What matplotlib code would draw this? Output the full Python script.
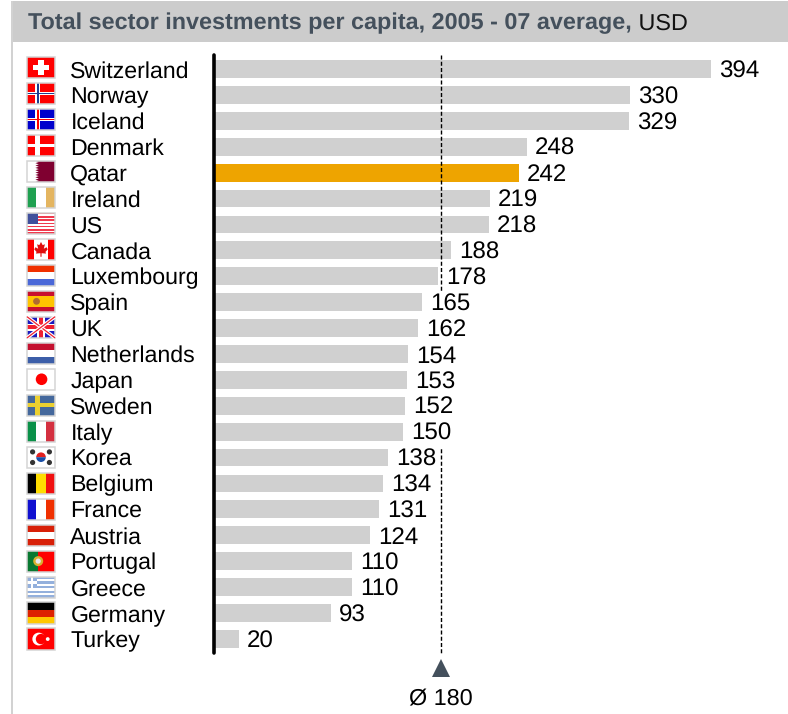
#libraries used
import matplotlib
matplotlib.use('Agg')
import matplotlib.pyplot as plt
from matplotlib.patches import Rectangle, Polygon, Circle, Wedge

plt.rcParams['font.family'] = ['Liberation Sans', 'DejaVu Sans']
plt.rcParams['text.hinting'] = 'no_hinting'

countries = ['Switzerland', 'Norway', 'Iceland', 'Denmark', 'Qatar', 'Ireland', 'US', 'Canada',
             'Luxembourg', 'Spain', 'UK', 'Netherlands', 'Japan', 'Sweden', 'Italy', 'Korea',
             'Belgium', 'France', 'Austria', 'Portugal', 'Greece', 'Germany', 'Turkey']
values = [394, 330, 329, 248, 242, 219, 218, 188, 178, 165, 162, 154, 153, 152, 150, 138,
          134, 131, 124, 110, 110, 93, 20]
average = 180
highlight = 'Qatar'
title_bold = 'Total sector investments per capita, 2005 - 07 average,'
title_unit = ' USD'

W, H = 788, 714
ROW0, ROW_STEP = 69.0, 25.9
BAR_X0 = 213.5
PX_PER_UNIT = 1.263

fig = plt.figure(figsize=(W / 100, H / 100), dpi=100)

# background axes in pixels, for the frame and the flags
bg = fig.add_axes([0, 0, 1, 1])
bg.set_xlim(0, W)
bg.set_ylim(H, 0)
bg.axis('off')

# bars axes in data units
ax = fig.add_axes([0, 0, 1, 1], facecolor='none')
ax.set_xlim(-BAR_X0 / PX_PER_UNIT, (W - BAR_X0) / PX_PER_UNIT)
ax.set_ylim((H - ROW0) / ROW_STEP, -ROW0 / ROW_STEP)
ax.axis('off')

bg.add_patch(Rectangle((11, 1), W - 11, 41, color='#cccccc', lw=0))
bg.add_patch(Rectangle((11, 1), 2.2, H, color='#d2d2d2', lw=0))
t = bg.text(28, 23.5, title_bold, fontsize=16.85, fontweight='bold', color='#44505c', va='center')
bbox = t.get_window_extent(fig.canvas.get_renderer())
bg.text(bbox.x1, 23.5, title_unit, fontsize=16.85, color='#111111', va='center')


def flag(row, name):
    # every flag is 28 x 21 px, u and v go from 0 to 1 inside it
    x0, y0 = 27.0, 67.5 + 25.98 * row - 10.6
    w, h = 28.0, 21.2

    def r(u0, v0, u1, v1, c):
        bg.add_patch(Rectangle((x0 + u0 * w, y0 + v0 * h), (u1 - u0) * w, (v1 - v0) * h, color=c, lw=0))

    def p(pts, c, lw=0):
        bg.add_patch(Polygon([(x0 + u * w, y0 + v * h) for u, v in pts], closed=True, color=c, lw=lw))

    def o(u, v, rad, c):
        bg.add_patch(Circle((x0 + u * w, y0 + v * h), rad, color=c, lw=0))

    def hstripes(cols):
        for i, c in enumerate(cols):
            r(0, i / len(cols), 1, (i + 1) / len(cols), c)

    def vstripes(cols):
        for i, c in enumerate(cols):
            r(i / len(cols), 0, (i + 1) / len(cols), 1, c)

    def nordic(bg_c, cross_c, inner=None):
        r(0, 0, 1, 1, bg_c)
        r(.29, 0, .47, 1, cross_c)
        r(0, .41, 1, .59, cross_c)
        if inner:
            r(.345, 0, .415, 1, inner)
            r(0, .465, 1, .535, inner)

    if name == 'Switzerland':
        r(0, 0, 1, 1, '#ff0000')
        r(.39, .16, .61, .84, 'white')
        r(.23, .36, .77, .64, 'white')
    elif name == 'Norway':
        nordic('#ff0000', 'white', '#1f3f8f')
    elif name == 'Iceland':
        nordic('#0000cc', 'white', '#ff0000')
    elif name == 'Denmark':
        nordic('#ff0000', 'white')
    elif name == 'Qatar':
        r(0, 0, 1, 1, '#7f0030')
        pts = [(0, 0)]
        for i in range(9):
            pts += [(.3, i / 9), (.42, (i + .5) / 9)]
        pts += [(.3, 1), (0, 1)]
        p(pts, 'white')
    elif name == 'Ireland':
        vstripes(['#1fa050', 'white', '#e4b560'])
    elif name == 'US':
        cols = ['#f03a4e' if i % 2 == 0 else 'white' for i in range(13)]
        hstripes(cols)
        r(0, 0, .4, 7 / 13, '#40509c')
    elif name == 'Canada':
        vstripes(['#ff0000', 'white', 'white', '#ff0000'])
        p([(.5, .15), (.56, .3), (.64, .26), (.6, .47), (.7, .4), (.74, .5), (.66, .62), (.68, .7),
           (.52, .68), (.52, .85), (.48, .85), (.48, .68), (.32, .7), (.34, .62), (.26, .5),
           (.3, .4), (.4, .47), (.36, .26), (.44, .3)], '#e01010')
    elif name == 'Luxembourg':
        hstripes(['#f03000', 'white', '#4a68d8'])
    elif name == 'Spain':
        r(0, 0, 1, 1, '#c8102e')
        r(0, .25, 1, .75, '#ffc400')
        o(.34, .5, 3.4, '#b06a30')
    elif name == 'UK':
        r(0, 0, 1, 1, '#1a1ac0')
        for a, b in [((0, 0), (1, 1)), ((0, 1), (1, 0))]:
            bg.plot([x0 + a[0] * w, x0 + b[0] * w], [y0 + a[1] * h, y0 + b[1] * h], color='white', lw=2.6, solid_capstyle='butt')
            bg.plot([x0 + a[0] * w, x0 + b[0] * w], [y0 + a[1] * h, y0 + b[1] * h], color='#f02030', lw=.9, solid_capstyle='butt')
        r(.36, 0, .64, 1, 'white')
        r(0, .33, 1, .67, 'white')
        r(.43, 0, .57, 1, '#f02030')
        r(0, .41, 1, .59, '#f02030')
    elif name == 'Netherlands':
        hstripes(['#c4112f', 'white', '#3c5ea8'])
    elif name == 'Japan':
        r(0, 0, 1, 1, 'white')
        o(.52, .5, 5.8, '#ff0000')
    elif name == 'Sweden':
        nordic('#44689c', '#ecd030')
    elif name == 'Italy':
        vstripes(['#0a9048', 'white', '#d43040'])
    elif name == 'Korea':
        r(0, 0, 1, 1, 'white')
        cx, cy = x0 + .5 * w, y0 + .5 * h
        bg.add_patch(Wedge((cx, cy), 4.8, 180, 360, color='#e02020', lw=0))
        bg.add_patch(Wedge((cx, cy), 4.8, 0, 180, color='#1a50a8', lw=0))
        for u, v in [(.2, .25), (.8, .25), (.2, .75), (.8, .75)]:
            o(u, v, 2.6, '#333333')
    elif name == 'Belgium':
        vstripes(['black', '#ffdd00', '#f01010'])
    elif name == 'France':
        vstripes(['#1010d0', 'white', '#f03000'])
    elif name == 'Austria':
        hstripes(['#d82008', 'white', '#d82008'])
    elif name == 'Portugal':
        r(0, 0, 1, 1, '#ff0000')
        r(0, 0, .4, 1, '#087830')
        o(.4, .5, 5.0, '#d8b030')
        o(.4, .5, 2.6, '#e8e8f0')
    elif name == 'Greece':
        hstripes(['#94b0dc' if i % 2 == 0 else 'white' for i in range(9)])
        r(0, 0, .37, 5 / 9, '#94b0dc')
        r(.14, 0, .23, 5 / 9, 'white')
        r(0, 2 / 9, .37, 3 / 9, 'white')
    elif name == 'Germany':
        hstripes(['black', '#dd2200', '#ffc800'])
    elif name == 'Turkey':
        r(0, 0, 1, 1, '#ff0000')
        o(.42, .5, 6.4, 'white')
        o(.5, .5, 5.2, '#ff0000')
        o(.74, .5, 1.9, 'white')
    bg.add_patch(Rectangle((x0, y0), w, h, fill=False, ec='#d4d4d4', lw=1.1))


rows = list(range(len(countries)))
colors = ['#eea400' if c == highlight else '#d0d0d0' for c in countries]
ax.barh(rows, values, height=17.8 / ROW_STEP, color=colors, lw=0, zorder=2)

# axis line and average marker
ax.plot([0.3, 0.3], [-0.55, 22.55], color='black', lw=2.6, zorder=4, solid_capstyle='round')
ax.plot([average, average], [-0.55, 22.55], color='black', lw=1, dashes=(2.9, 1.6), zorder=3)
ax.plot([average], [23.13], marker='^', ms=13.5, color='#44505c', mew=0, zorder=4)
ax.text(average, 24.33, 'Ø ' + str(average), fontsize=16.8, color='black', ha='center', va='center')

TEXT_OFF = 0.09
for i, (name, val) in enumerate(zip(countries, values)):
    flag(i, name)
    ax.text((70.4 - BAR_X0) / PX_PER_UNIT, i + TEXT_OFF, name, fontsize=16.7, color='black', va='center', zorder=5)
    ax.text(val + 8 / PX_PER_UNIT, i + TEXT_OFF, str(val), fontsize=17.4, color='black', va='center', zorder=5,
            bbox=dict(facecolor='white', edgecolor='none', pad=2.0))

fig.savefig('out.png', dpi=100)
